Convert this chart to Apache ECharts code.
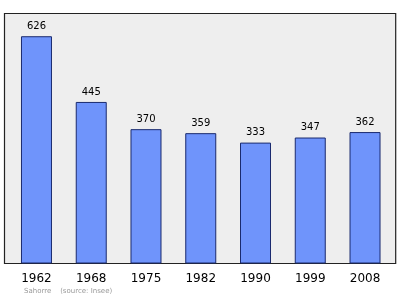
<!DOCTYPE html>
<html><head><meta charset="utf-8">
<script src="https://cdn.jsdelivr.net/npm/echarts@6/dist/echarts.min.js"></script>
<style>html,body{margin:0;padding:0;background:#fff}#c{width:400px;height:299px}</style>
</head><body><div id="c"></div>
<script>
var years = ['1962','1968','1975','1982','1990','1999','2008'];
var population = [626,445,370,359,333,347,362];
var sourceText = 'Sahorre    (source: Insee)';

var chart = echarts.init(document.getElementById('c'), null, {renderer:'canvas'});
chart.setOption({
  animation:false,
  backgroundColor:'#ffffff',
  grid:[
    {left:4.5, top:13.5, width:391.2, height:250, show:true, backgroundColor:'#eeeeee', borderColor:'#222222', borderWidth:1.2, containLabel:false},
    {left:9.1, top:13.5, width:383.3, height:250, show:false, containLabel:false}
  ],
  xAxis:[
    {gridIndex:0, type:'value', show:false, min:0, max:1},
    {gridIndex:1, type:'category', data:years, axisLine:{show:false}, axisTick:{show:false},
     axisLabel:{color:'#000', fontSize:12, fontFamily:'DejaVu Sans', margin:9}}
  ],
  yAxis:[
    {gridIndex:0, type:'value', show:false, min:0, max:1},
    {gridIndex:1, type:'value', show:false, min:0, max:688.6}
  ],
  graphic:[{type:'text', left:24, top:288, style:{text:sourceText, fill:'#999', font:'7px DejaVu Sans'}}],
  series:[{
    type:'bar', xAxisIndex:1, yAxisIndex:1, data:population, barWidth:31,
    itemStyle:{color:'#6f94fb', borderColor:'#1a2a6e', borderWidth:1},
    label:{show:true, position:'top', color:'#000', fontSize:10, fontFamily:'DejaVu Sans', distance:5}
  }]
});
</script></body></html>
